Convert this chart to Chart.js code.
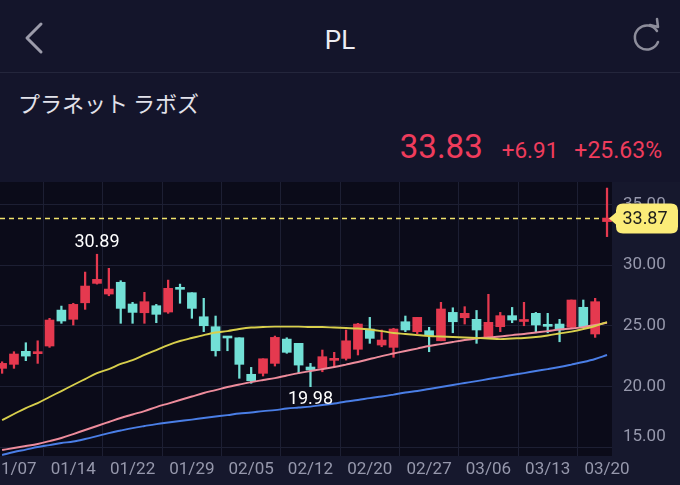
<!DOCTYPE html>
<html>
<head>
<meta charset="utf-8">
<script src="https://cdn.jsdelivr.net/npm/chart.js@4.4.1/dist/chart.umd.min.js"></script>
<style>
  html, body { margin:0; padding:0; }
  body { width:680px; height:485px; overflow:hidden; background:#14152b; position:relative; font-family: Roboto, "Noto Sans CJK JP", sans-serif; }
  .abs { position:absolute; }
  #title { left:0; width:680px; top:24px; text-align:center; font-size:26px; line-height:32px; color:#ececf2; }
  #sep { left:0; top:72px; width:680px; height:1px; background:#24263c; }
  #name { left:18px; top:86px; font-family:"Noto Sans CJK JP", sans-serif; font-size:22px; line-height:32px; color:#e2e2ea; }
  #price { right:18px; top:127px; display:flex; align-items:baseline; color:#ef3c5c; }
  #price .p { font-size:33px; line-height:40px; margin-right:19px; }
  #price .c { font-size:22.5px; margin-right:16px; }
  #price .r { font-size:23px; }
  #chartWrap { left:0; top:182px; width:680px; height:303px; }
  canvas { display:block; }
</style>
</head>
<body>
<svg class="abs" style="left:0;top:0" width="680" height="72">
  <polyline points="41,24 27,38 41,52" fill="none" stroke="#9c9cab" stroke-width="3" stroke-linecap="round" stroke-linejoin="round"/>
  <path d="M 657 31 A 12 12 0 1 0 658 42" fill="none" stroke="#8d8d9b" stroke-width="2.5" stroke-linecap="round"/>
  <polyline points="650,25 658,27 657,19" fill="none" stroke="#8d8d9b" stroke-width="2.5" stroke-linecap="round" stroke-linejoin="round"/>
</svg>
<div id="title" class="abs">PL</div>
<div id="sep" class="abs"></div>
<div id="name" class="abs">プラネット ラボズ</div>
<div id="price" class="abs"><span class="p">33.83</span><span class="c">+6.91</span><span class="r">+25.63%</span></div>
<div id="chartWrap" class="abs"><canvas id="c" width="680" height="303"></canvas></div>
<script>
// ---- data ----
const dates = ['01/06','01/07','01/08','01/09','01/12','01/13','01/14','01/15','01/16','01/20','01/21','01/22','01/23','01/26','01/27','01/28','01/29','01/30',
  '02/02','02/03','02/04','02/05','02/06','02/09','02/10','02/11','02/12','02/13','02/17','02/18','02/19','02/20','02/23','02/24','02/25','02/26','02/27',
  '03/02','03/03','03/04','03/05','03/06','03/09','03/10','03/11','03/12','03/13','03/16','03/17','03/18','03/19','03/20'];
const openP  = [21.49,21.82,22.89,22.70,23.33,26.29,25.53,26.89,28.49,27.61,28.58,26.79,26.07,26.65,26.13,28.05,27.72,25.74,24.92,24.04,24.01,21.00,21.08,21.90,23.90,23.55,21.60,21.49,22.15,22.31,23.06,24.73,23.41,23.22,25.33,24.51,24.59,23.76,26.10,25.66,25.53,23.96,24.92,25.83,25.35,26.02,25.00,25.14,24.87,26.52,24.32,33.58];
const highP  = [22.03,22.86,23.60,23.76,25.61,26.62,26.85,29.42,30.89,29.73,28.71,26.93,27.75,26.76,28.76,28.43,27.72,27.26,25.80,24.04,24.01,21.57,22.28,24.15,24.01,23.55,21.90,23.00,22.81,24.65,25.20,25.69,24.65,24.79,25.80,25.69,24.87,26.93,26.48,26.57,26.26,27.59,26.10,26.51,26.93,26.10,26.02,25.53,27.12,27.12,27.26,36.34];
const lowP   = [21.08,21.49,22.12,21.90,23.22,25.20,25.06,26.35,28.43,27.47,25.20,25.20,25.20,25.25,26.02,26.85,25.61,24.51,22.50,22.94,20.67,20.26,20.86,21.68,22.73,21.08,19.98,21.21,21.57,22.17,22.59,23.55,23.27,22.40,24.51,24.32,22.86,23.76,24.42,25.14,23.55,23.96,24.51,25.25,25.00,24.42,24.42,23.68,24.79,24.87,24.04,32.34];
const closeP = [21.90,22.67,22.50,22.75,25.47,25.39,26.76,28.27,28.82,28.02,26.43,26.10,26.98,25.94,28.08,28.00,26.43,25.00,22.94,23.99,21.82,20.47,22.28,24.04,22.81,21.76,21.35,22.45,22.20,23.76,25.14,23.96,23.82,24.73,24.65,25.69,24.18,26.38,25.33,26.02,24.65,25.28,25.83,25.47,25.42,25.06,24.95,24.65,27.12,24.87,26.98,33.87];
const maShort = [17.23,17.73,18.22,18.63,19.13,19.62,20.12,20.61,21.10,21.43,21.85,22.17,22.59,23.00,23.41,23.74,23.99,24.23,24.44,24.56,24.73,24.85,24.89,24.93,24.93,24.93,24.89,24.89,24.85,24.81,24.77,24.69,24.56,24.40,24.32,24.23,24.15,24.11,24.07,24.03,23.99,23.95,23.90,23.95,23.99,24.07,24.20,24.36,24.52,24.73,24.98,25.30];
const maMid   = [14.76,14.93,15.09,15.26,15.50,15.75,16.08,16.41,16.74,17.07,17.40,17.69,17.97,18.30,18.59,18.88,19.17,19.46,19.70,19.95,20.16,20.36,20.53,20.69,20.90,21.10,21.27,21.43,21.60,21.80,22.01,22.26,22.50,22.71,22.92,23.12,23.33,23.49,23.66,23.82,23.95,24.03,24.11,24.23,24.32,24.44,24.56,24.69,24.77,24.89,25.06,25.25];
const maLong  = [14.35,14.60,14.80,15.01,15.17,15.34,15.46,15.67,15.91,16.16,16.37,16.57,16.74,16.90,17.03,17.15,17.27,17.40,17.52,17.64,17.77,17.85,17.97,18.05,18.18,18.26,18.34,18.47,18.59,18.76,18.88,19.04,19.17,19.33,19.50,19.62,19.79,19.95,20.12,20.28,20.44,20.61,20.77,20.94,21.10,21.27,21.43,21.60,21.80,22.01,22.26,22.59];
const xTickLabels = ['01/07','01/14','01/22','01/29','02/05','02/12','02/20','02/27','03/06','03/13','03/20'];
const yTicks = [15, 20, 25, 30, 35];

// ---- colors ----
const UP = '#e5394f', DOWN = '#72e0d6';
const candleColor = i => closeP[i] >= openP[i] ? UP : DOWN;

const wickData = dates.map((d, i) => ({ x: i, y: [lowP[i], highP[i]] }));
const bodyData = dates.map((d, i) => ({ x: i, y: [Math.min(openP[i], closeP[i]), Math.max(openP[i], closeP[i])] }));
const lineData = arr => arr.map((v, i) => ({ x: i, y: v }));

Chart.defaults.font.family = 'Roboto';

const decor = {
  id: 'decor',
  beforeDraw(chart) {
    const { ctx, chartArea: a } = chart;
    ctx.save();
    ctx.fillStyle = '#16182d';
    ctx.fillRect(0, 0, chart.width, chart.height);
    ctx.fillStyle = '#0b0b19';
    ctx.fillRect(a.left, a.top, a.right - a.left, a.bottom - a.top);
    ctx.restore();
  },
  afterDraw(chart) {
    const { ctx, chartArea: a, scales: { x, y } } = chart;
    ctx.save();
    // max / min annotations (excluding live candle)
    const hs = highP.slice(0, -1), ls = lowP.slice(0, -1);
    const hi = hs.indexOf(Math.max(...hs)), lo = ls.indexOf(Math.min(...ls));
    ctx.font = '18px Roboto';
    ctx.fillStyle = '#ffffff';
    ctx.textAlign = 'center';
    ctx.textBaseline = 'bottom';
    ctx.fillText(highP[hi].toFixed(2), x.getPixelForValue(hi), y.getPixelForValue(highP[hi]) - 3);
    ctx.textBaseline = 'top';
    ctx.fillText(lowP[lo].toFixed(2), x.getPixelForValue(lo), y.getPixelForValue(lowP[lo]) + 4);
    // last price dashed line
    const last = closeP.length - 1;
    const py = Math.round(y.getPixelForValue(closeP[last])) + 0.5;
    ctx.strokeStyle = '#f2e36b';
    ctx.lineWidth = 1.6;
    ctx.setLineDash([5, 4]);
    ctx.beginPath();
    ctx.moveTo(a.left, py);
    ctx.lineTo(x.getPixelForValue(last) - 4, py);
    ctx.stroke();
    ctx.setLineDash([]);
    // badge
    const bx = 616, bw = 62, bh = 30, by = py - bh / 2, r = 7;
    ctx.fillStyle = '#fbec78';
    ctx.beginPath();
    ctx.moveTo(bx + r, by);
    ctx.lineTo(bx + bw - r, by);
    ctx.quadraticCurveTo(bx + bw, by, bx + bw, by + r);
    ctx.lineTo(bx + bw, by + bh - r);
    ctx.quadraticCurveTo(bx + bw, by + bh, bx + bw - r, by + bh);
    ctx.lineTo(bx + r, by + bh);
    ctx.quadraticCurveTo(bx, by + bh, bx, by + bh - r);
    ctx.lineTo(bx, py + 6);
    ctx.lineTo(bx - 7, py);
    ctx.lineTo(bx, py - 6);
    ctx.lineTo(bx, by + r);
    ctx.quadraticCurveTo(bx, by, bx + r, by);
    ctx.closePath();
    ctx.fill();
    ctx.fillStyle = '#1c1c1c';
    ctx.font = '18px Roboto';
    ctx.textAlign = 'center';
    ctx.textBaseline = 'middle';
    ctx.fillText(closeP[last].toFixed(2), bx + bw / 2 - 2, py + 1);
    ctx.restore();
  }
};

new Chart(document.getElementById('c'), {
  type: 'bar',
  data: {
    datasets: [
      { type: 'line', data: lineData(maShort), borderColor: '#d8cf4c', borderWidth: 1.9, pointRadius: 0, tension: 0.4, cubicInterpolationMode: 'monotone', order: 0, clip: false },
      { type: 'line', data: lineData(maMid), borderColor: '#ee8c9c', borderWidth: 1.9, pointRadius: 0, tension: 0.4, cubicInterpolationMode: 'monotone', order: 0, clip: false },
      { type: 'line', data: lineData(maLong), borderColor: '#4a7ee6', borderWidth: 1.9, pointRadius: 0, tension: 0.4, cubicInterpolationMode: 'monotone', order: 0, clip: false },
      { data: bodyData, backgroundColor: c => candleColor(c.dataIndex), barThickness: 9, minBarLength: 2, grouped: false, order: 1 },
      { data: wickData, backgroundColor: c => candleColor(c.dataIndex), barThickness: 1.6, grouped: false, order: 2 }
    ]
  },
  options: {
    responsive: false,
    animation: false,
    events: [],
    layout: { padding: 0 },
    plugins: { legend: { display: false }, tooltip: { enabled: false } },
    scales: {
      x: {
        type: 'linear',
        min: -0.177,
        max: 51.42,
        offset: false,
        border: { display: false },
        grid: { color: '#1d1f33', lineWidth: 1, drawTicks: false },
        ticks: { color: '#9698ac', font: { size: 17 }, padding: 4, maxRotation: 0, autoSkip: false,
          callback: v => dates[v] },
        afterBuildTicks: s => { s.ticks = xTickLabels.map(l => ({ value: dates.indexOf(l) })); },
        afterFit: s => { s.height = 29; s.paddingLeft = 0; s.paddingRight = 0; }
      },
      y: {
        position: 'right',
        min: 14.27,
        max: 36.84,
        border: { display: false },
        grid: { color: '#1d1f33', lineWidth: 1, drawTicks: false },
        ticks: { color: '#9698ac', font: { size: 17 }, padding: 11,
          callback: v => v === yTicks[0] ? [v.toFixed(2), ''] : v.toFixed(2) },
        afterBuildTicks: s => { s.ticks = yTicks.map(v => ({ value: v })); },
        afterFit: s => { s.width = 68; s.paddingTop = 0; s.paddingBottom = 0; }
      }
    }
  },
  plugins: [decor]
});
</script>
</body>
</html>
